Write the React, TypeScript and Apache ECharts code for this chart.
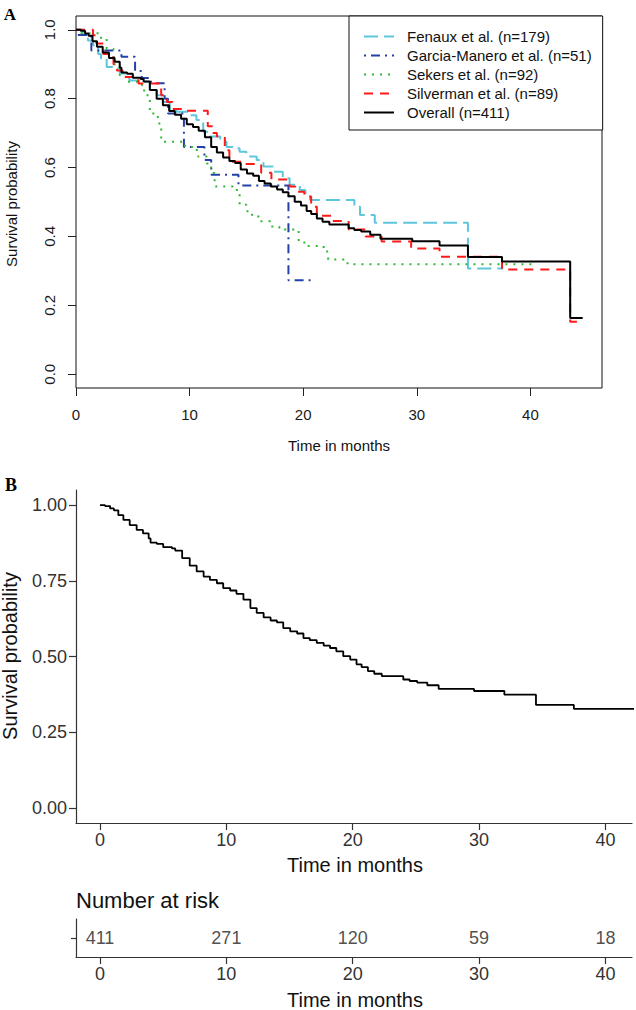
import React, { useEffect, useRef } from "react";
import * as echarts from "echarts";

const FONT = "'Liberation Sans', Arial, sans-serif";

const xTicks = [0, 10, 20, 30, 40];
const yTicksA = [0, 0.2, 0.4, 0.6, 0.8, 1.0];
const yTicksB = [0, 0.25, 0.5, 0.75, 1.0];

const seriesNames = [
  "Fenaux et al. (n=179)",
  "Garcia-Manero et al. (n=51)",
  "Sekers et al. (n=92)",
  "Silverman et al. (n=89)",
  "Overall (n=411)",
];

const fenauxTime = [0, 0.6, 1.05, 1.5, 1.95, 2.2, 2.7, 3.3, 3.85, 4.7, 5.6, 6.5, 7.1, 7.7, 8.25, 8.85, 9.9, 10.6, 11.2, 11.8, 12.7, 13.25, 13.8, 14.4, 15.0, 15.9, 16.5, 17.4, 18.2, 18.8, 19.7, 20.2, 20.6, 24.5, 25.0, 26.3, 34.5, 37.6];
const fenauxSurv = [1, 0.985, 0.969, 0.955, 0.93, 0.916, 0.892, 0.887, 0.873, 0.853, 0.849, 0.825, 0.81, 0.79, 0.77, 0.762, 0.752, 0.738, 0.704, 0.69, 0.675, 0.66, 0.656, 0.646, 0.632, 0.622, 0.603, 0.588, 0.569, 0.55, 0.535, 0.52, 0.506, 0.486, 0.462, 0.44, 0.307, 0.307];

const garciaTime = [0, 0.1, 1.35, 4.0, 5.2, 5.8, 6.6, 7.8, 8.1, 9.5, 11.3, 11.9, 14.3, 18.7, 21.0];
const garciaSurv = [1, 0.985, 0.94, 0.922, 0.88, 0.86, 0.845, 0.8, 0.757, 0.66, 0.622, 0.579, 0.548, 0.273, 0.273];

const sekersTime = [0, 0.35, 2.1, 2.7, 3.3, 3.85, 4.4, 5.8, 6.0, 6.5, 7.2, 7.5, 9.6, 10.3, 10.75, 11.5, 11.9, 12.2, 13.8, 14.4, 15.0, 15.5, 16.2, 17.1, 17.9, 19.6, 20.1, 21.8, 22.2, 23.9, 40.3];
const sekersSurv = [1, 0.99, 0.977, 0.945, 0.9, 0.868, 0.849, 0.839, 0.81, 0.757, 0.728, 0.675, 0.66, 0.651, 0.632, 0.612, 0.584, 0.545, 0.535, 0.492, 0.473, 0.458, 0.444, 0.429, 0.42, 0.386, 0.372, 0.356, 0.333, 0.319, 0.319];

const silvermanTime = [0, 1.5, 1.8, 2.4, 3.3, 3.6, 4.1, 5.5, 7.5, 8.0, 8.5, 9.6, 11.6, 12.0, 12.4, 13.1, 13.5, 14.8, 16.3, 17.2, 18.8, 19.3, 20.1, 20.7, 21.2, 22.5, 24.0, 25.5, 26.9, 29.5, 32.0, 37.5, 43.5, 44.7];
const silvermanSurv = [1, 0.984, 0.96, 0.93, 0.9, 0.882, 0.863, 0.844, 0.81, 0.79, 0.77, 0.765, 0.72, 0.7, 0.69, 0.65, 0.617, 0.61, 0.585, 0.565, 0.545, 0.53, 0.516, 0.486, 0.46, 0.445, 0.42, 0.4, 0.385, 0.365, 0.341, 0.304, 0.152, 0.152];

const overallTime = [0, 0.4, 0.8, 1.1, 1.45, 1.85, 2.35, 2.9, 3.4, 3.85, 4.0, 4.5, 5.0, 5.7, 5.95, 6.5, 7.1, 7.65, 8.2, 8.7, 9.25, 9.75, 10.3, 10.8, 11.35, 11.9, 12.4, 12.95, 13.5, 14.0, 14.5, 15.05, 15.6, 16.1, 16.6, 17.15, 17.7, 18.2, 18.7, 19.25, 19.8, 20.3, 20.7, 21.2, 21.7, 22.3, 24.0, 24.5, 25.1, 25.9, 26.8, 29.6, 32.0, 34.5, 37.5, 43.5, 44.6];
const overallSurv = [1, 0.997, 0.989, 0.983, 0.967, 0.951, 0.934, 0.918, 0.907, 0.89, 0.876, 0.872, 0.861, 0.857, 0.85, 0.825, 0.8, 0.781, 0.764, 0.753, 0.742, 0.726, 0.718, 0.707, 0.688, 0.66, 0.644, 0.629, 0.619, 0.613, 0.594, 0.583, 0.576, 0.561, 0.554, 0.545, 0.536, 0.528, 0.517, 0.501, 0.49, 0.474, 0.465, 0.452, 0.443, 0.435, 0.424, 0.419, 0.414, 0.405, 0.393, 0.386, 0.374, 0.34, 0.327, 0.163, 0.163];

const riskTimes = [0, 10, 20, 30, 40];
const riskCounts = [411, 271, 120, 59, 18];

const zip = (t: number[], s: number[]) => t.map((v, i) => [v, s[i]]);

export default function App() {
  const ref = useRef<HTMLDivElement>(null);
  useEffect(() => {
    if (!ref.current) return;
    const chart = echarts.init(ref.current, null, { renderer: "svg" });

    const curves = [
      { name: seriesNames[0], data: zip(fenauxTime, fenauxSurv), color: "#5EC6DB", dash: [14, 6] },
      { name: seriesNames[1], data: zip(garciaTime, garciaSurv), color: "#2540A8", dash: [2, 5, 9, 5] },
      { name: seriesNames[2], data: zip(sekersTime, sekersSurv), color: "#33B833", dash: [2, 6] },
      { name: seriesNames[3], data: zip(silvermanTime, silvermanSurv), color: "#FF1A1A", dash: [9, 7] },
      { name: seriesNames[4], data: zip(overallTime, overallSurv), color: "#000000", dash: "solid" },
    ];

    const tickLabelA = { fontSize: 15, color: "#1a1a1a", fontFamily: FONT };
    const tickLabelB = { fontSize: 18, color: "#333333", fontFamily: FONT };

    const text = (t: string, x: number, y: number, size: number, extra: any = {}) => ({
      type: "text",
      x,
      y,
      rotation: extra.rotation || 0,
      style: {
        text: t,
        fontSize: size,
        fontFamily: extra.fontFamily || FONT,
        fontWeight: extra.fontWeight || "normal",
        fill: extra.fill || "#111",
        align: extra.align || "center",
        textAlign: extra.align || "center",
        verticalAlign: "middle",
        textVerticalAlign: "middle",
      },
    });

    chart.setOption({
      animation: false,
      backgroundColor: "#ffffff",
      grid: [
        { left: 76, top: 16, width: 526, height: 372, show: true, borderColor: "#111", borderWidth: 1, backgroundColor: "transparent" },
        { left: 76, top: 490, width: 556, height: 333 },
        { left: 76, top: 919, width: 556, height: 38 },
      ],
      legend: {
        left: 349,
        top: 16,
        orient: "vertical",
        itemWidth: 30,
        itemHeight: 14,
        itemGap: 4,
        padding: [13, 11, 10, 14],
        borderColor: "#111",
        borderWidth: 1,
        backgroundColor: "#fff",
        itemStyle: { opacity: 0, borderWidth: 0 },
        textStyle: { fontSize: 15, color: "#111", fontFamily: FONT, padding: [0, 0, 0, 8] },
        data: seriesNames,
      },
      xAxis: [
        {
          type: "value", gridIndex: 0, min: 0, max: 46.3,
          axisLine: { show: false, onZero: false },
          axisTick: { show: true, length: 8, customValues: xTicks, lineStyle: { color: "#222" } },
          axisLabel: { ...tickLabelA, margin: 19, customValues: xTicks },
          splitLine: { show: false },
        },
        {
          type: "value", gridIndex: 1, min: -1.9, max: 42.1,
          axisLine: { show: true, onZero: false, lineStyle: { color: "#333", width: 1.2 } },
          axisTick: { show: true, length: 7, customValues: xTicks, lineStyle: { color: "#333", width: 1.2 } },
          axisLabel: { ...tickLabelB, margin: 8, customValues: xTicks },
          splitLine: { show: false },
        },
        {
          type: "value", gridIndex: 2, min: -1.9, max: 42.1,
          axisLine: { show: true, onZero: false, lineStyle: { color: "#333", width: 1.2 } },
          axisTick: { show: true, length: 7, customValues: xTicks, lineStyle: { color: "#333", width: 1.2 } },
          axisLabel: { ...tickLabelB, margin: 8, customValues: xTicks },
          splitLine: { show: false },
        },
      ],
      yAxis: [
        {
          type: "value", gridIndex: 0, min: -0.04, max: 1.04,
          axisLine: { show: false, onZero: false },
          axisTick: { show: true, length: 8, customValues: yTicksA, lineStyle: { color: "#222" } },
          axisLabel: { ...tickLabelA, rotate: 90, margin: 19, customValues: yTicksA, formatter: (v: number) => v.toFixed(1) },
          splitLine: { show: false },
        },
        {
          type: "value", gridIndex: 1, min: -0.05, max: 1.05,
          axisLine: { show: true, onZero: false, lineStyle: { color: "#333", width: 1.2 } },
          axisTick: { show: true, length: 7, customValues: yTicksB, lineStyle: { color: "#333", width: 1.2 } },
          axisLabel: { ...tickLabelB, margin: 9, customValues: yTicksB, formatter: (v: number) => v.toFixed(2) },
          splitLine: { show: false },
        },
        {
          type: "value", gridIndex: 2, min: 0, max: 1,
          axisLine: { show: true, onZero: false, lineStyle: { color: "#333", width: 1.2 } },
          axisTick: { show: true, length: 5, customValues: [0.5], lineStyle: { color: "#333", width: 1.2 } },
          axisLabel: { show: false },
          splitLine: { show: false },
        },
      ],
      series: [
        ...curves.map((c) => ({
          name: c.name,
          type: "line",
          xAxisIndex: 0,
          yAxisIndex: 0,
          step: "end",
          symbol: "none",
          data: c.data,
          color: c.color,
          lineStyle: { color: c.color, width: 2, type: c.dash },
          itemStyle: { color: c.color },
        })),
        {
          name: "overallB",
          type: "line",
          xAxisIndex: 1,
          yAxisIndex: 1,
          step: "end",
          symbol: "none",
          data: zip(overallTime, overallSurv),
          lineStyle: { color: "#000", width: 1.8 },
          itemStyle: { color: "#000" },
        },
        {
          name: "risk",
          type: "scatter",
          xAxisIndex: 2,
          yAxisIndex: 2,
          symbolSize: 1,
          itemStyle: { color: "rgba(0,0,0,0)" },
          data: riskTimes.map((t, i) => [t, 0.5, riskCounts[i]]),
          label: {
            show: true,
            position: "inside",
            formatter: (p: any) => String(p.value[2]),
            fontSize: 18,
            color: "#222",
            fontFamily: FONT,
          },
        },
      ],
      graphic: [
        text("A", 10, 14, 17, { fontFamily: "'Liberation Serif', 'Times New Roman', serif", fontWeight: "bold", fill: "#000" }),
        text("B", 11, 485, 18, { fontFamily: "'Liberation Serif', 'Times New Roman', serif", fontWeight: "bold", fill: "#000" }),
        text("Survival probability", 11, 204, 15, { rotation: Math.PI / 2 }),
        text("Time in months", 339, 445, 15),
        text("Survival probability", 10, 656, 20, { rotation: Math.PI / 2 }),
        text("Time in months", 355, 865, 20),
        text("Number at risk", 76, 900, 22, { align: "left" }),
        text("Time in months", 355, 1000, 20),
      ],
    });
    return () => chart.dispose();
  }, []);
  return <div ref={ref} style={{ position: "fixed", left: 0, top: 0, width: 636, height: 1010, background: "#fff" }} />;
}
